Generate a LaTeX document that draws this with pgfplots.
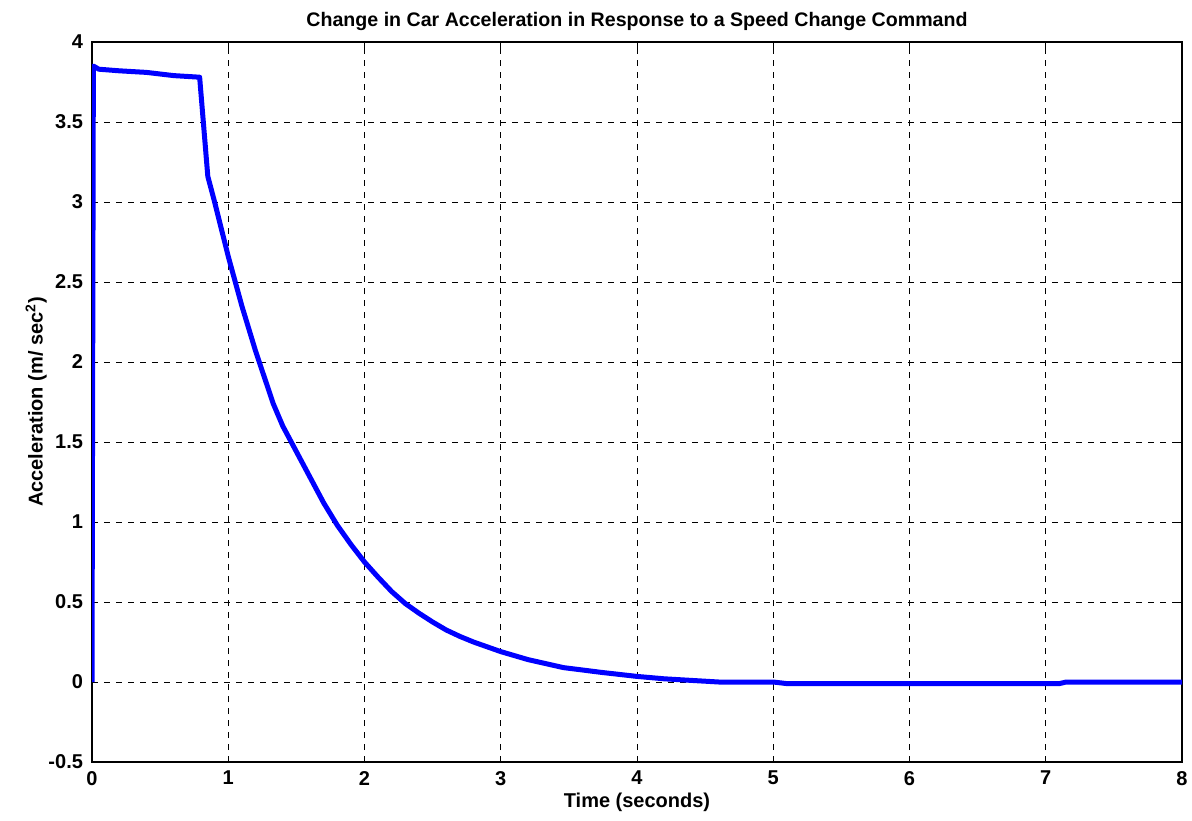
\documentclass[border=0pt]{standalone}
\usepackage{fontspec}
\setmainfont{Liberation Sans}
\usepackage{pgfplots}
\pgfplotsset{compat=1.18}
\begin{document}
\begin{tikzpicture}
\path[use as bounding box] (-46pt,-29pt) rectangle (550pt,381pt);
\begin{axis}[
  at={(0,0)}, anchor=south west,
  scale only axis, width=545pt, height=360pt,
  xmin=0, xmax=8, ymin=-0.5, ymax=4,
  xtick={0,1,...,8},
  ytick={-0.5,0,0.5,1,1.5,2,2.5,3,3.5,4},
  yticklabels={-0.5,0,0.5,1,1.5,2,2.5,3,3.5,4},
  xticklabels={0,1,2,3,4,5,6,7,8},
  tick align=inside, major tick length=3pt,
  tick style={black, line width=0.5pt},
  grid=major,
  major grid style={black, line width=0.5pt, dash pattern=on 3pt off 3pt},
  axis line style={black, line width=0.8pt},
  ticklabel style={font=\fontsize{10}{12}\selectfont\bfseries},
  xticklabel style={yshift=-1pt},
  yticklabel style={xshift=-1pt},
  title={\fontsize{9.8}{12}\selectfont\bfseries Change in Car Acceleration in Response to a Speed Change Command},
  title style={yshift=-4pt},
  xlabel={\fontsize{10}{12}\selectfont\bfseries Time (seconds)},
  xlabel style={yshift=3pt},
  ylabel={\fontsize{10}{12}\selectfont\bfseries Acceleration (m/ sec$^{\mathbf 2}$)},
  ylabel style={yshift=-6pt},
]
\addplot[blue, line width=2.5pt, line join=round] coordinates {
(0,0) (0.01,3.85) (0.05,3.83) (0.2,3.82) (0.4,3.81) (0.6,3.79) (0.79,3.78)
(0.85,3.16) (0.9,3.00) (1.0,2.66) (1.1,2.35) (1.2,2.07) (1.33,1.74) (1.4,1.60)
(1.5,1.44) (1.6,1.28) (1.7,1.12) (1.8,0.98) (1.9,0.86) (2.0,0.75) (2.1,0.655)
(2.2,0.565) (2.3,0.49) (2.4,0.43) (2.5,0.375) (2.6,0.325) (2.7,0.285) (2.8,0.25)
(2.9,0.22) (3.0,0.19) (3.2,0.14) (3.46,0.09) (3.74,0.06) (4.0,0.035) (4.2,0.02)
(4.4,0.01) (4.6,0.0) (5.0,0.0) (5.1,-0.01) (7.1,-0.01) (7.15,0) (8,0)
};
\end{axis}
\end{tikzpicture}
\end{document}
